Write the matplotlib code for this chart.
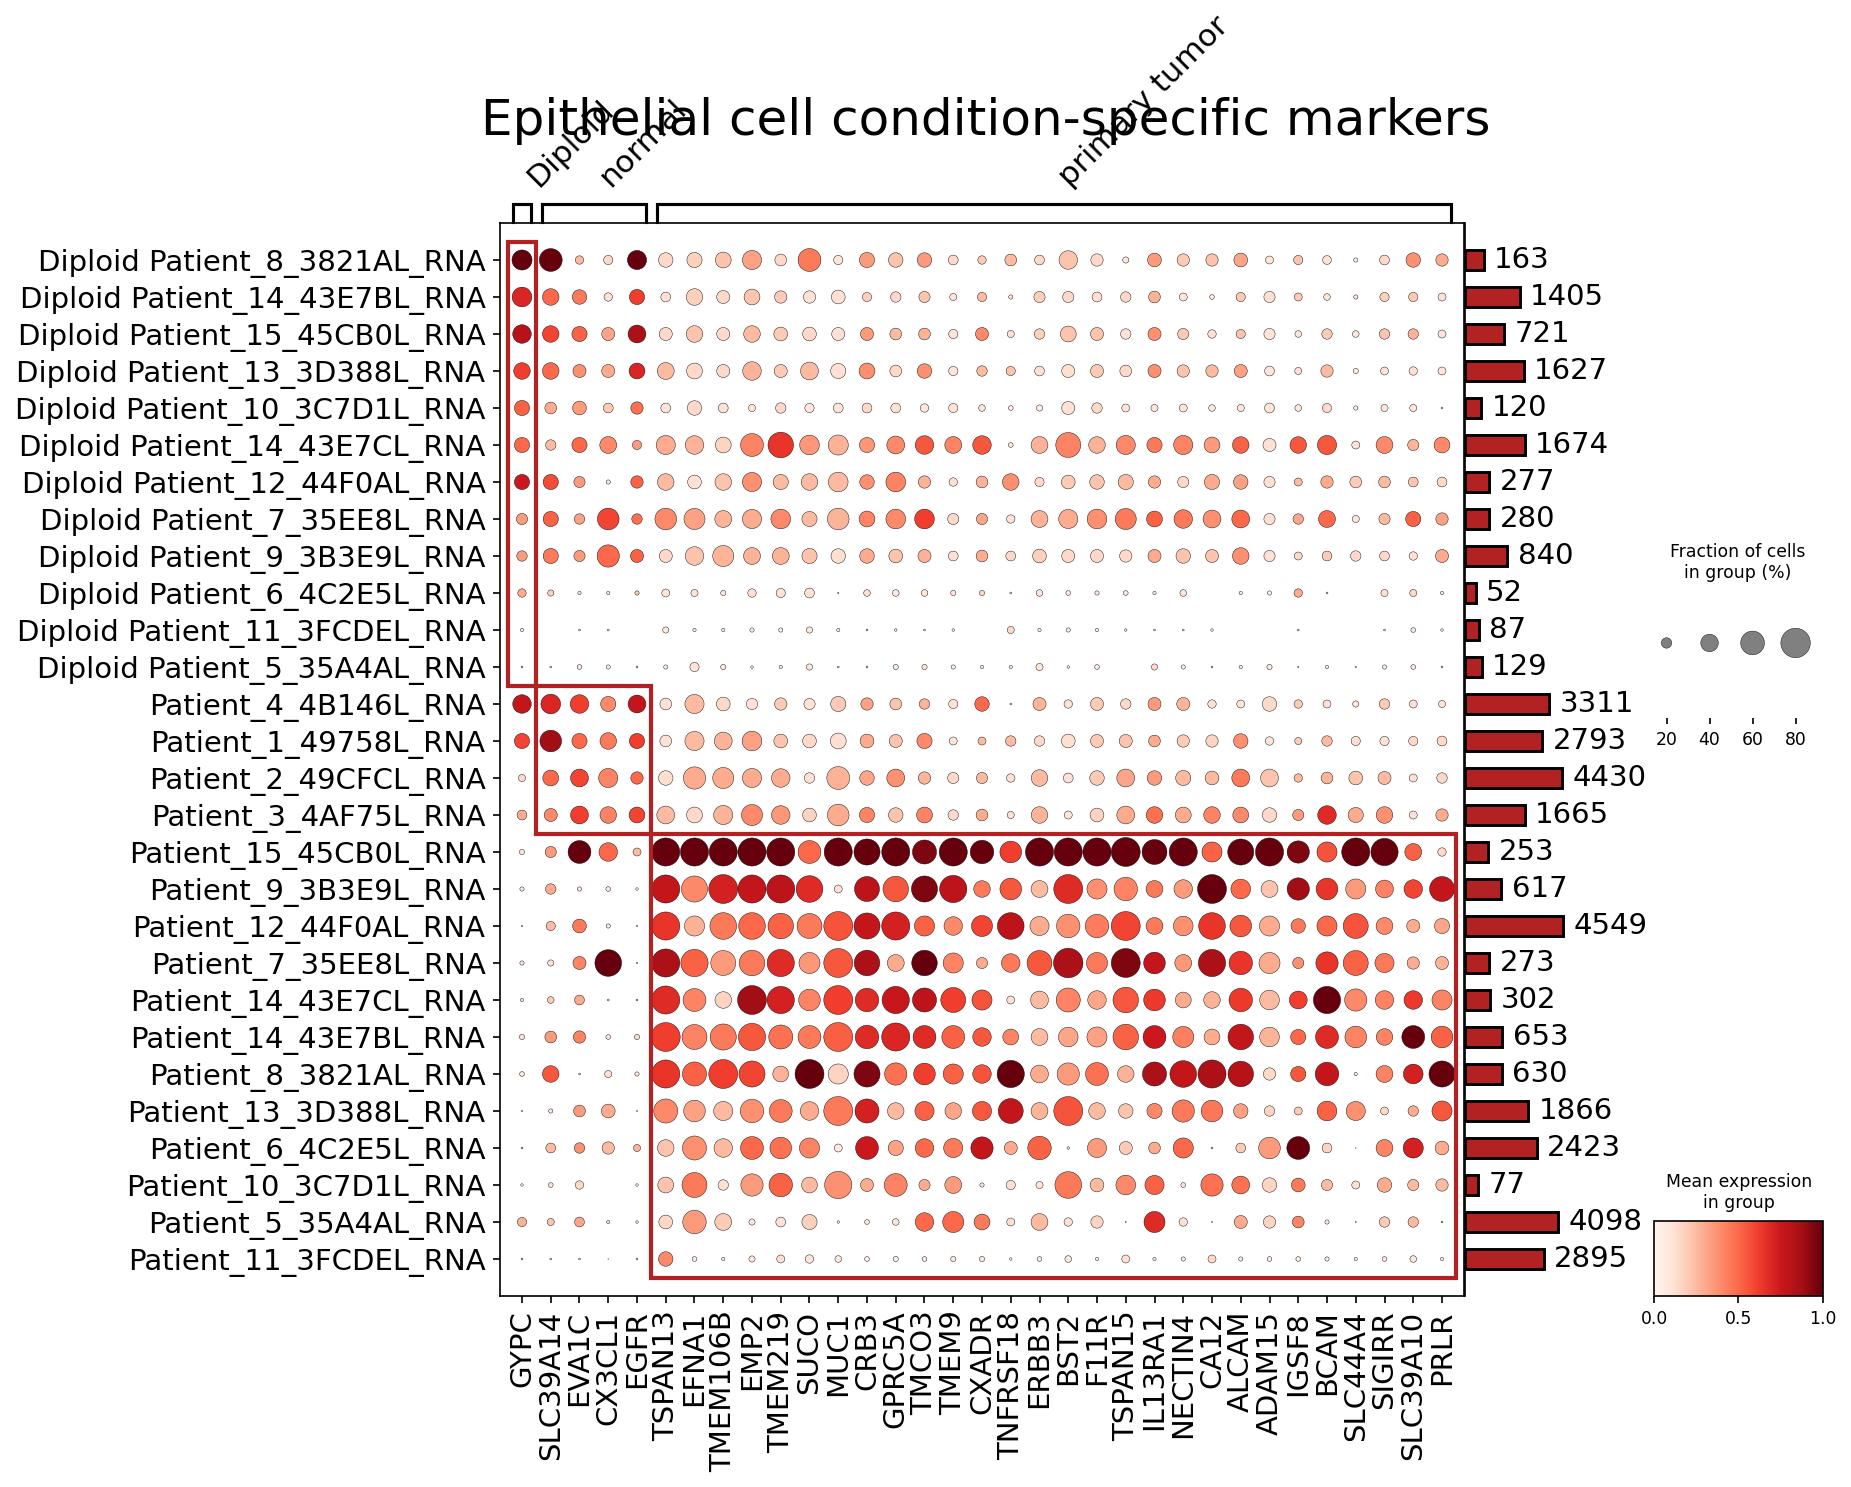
import numpy as np
import matplotlib
matplotlib.use("Agg")
import matplotlib.pyplot as plt
from matplotlib.patches import Rectangle
from matplotlib import colors as mcolors
from matplotlib.cm import ScalarMappable

# ---------------- data ----------------
title = "Epithelial cell condition-specific markers"

genes = ["GYPC", "SLC39A14", "EVA1C", "CX3CL1", "EGFR", "TSPAN13", "EFNA1", "TMEM106B",
         "EMP2", "TMEM219", "SUCO", "MUC1", "CRB3", "GPRC5A", "TMCO3", "TMEM9", "CXADR",
         "TNFRSF18", "ERBB3", "BST2", "F11R", "TSPAN15", "IL13RA1", "NECTIN4", "CA12",
         "ALCAM", "ADAM15", "IGSF8", "BCAM", "SLC44A4", "SIGIRR", "SLC39A10", "PRLR"]

row_labels = ["Diploid Patient_8_3821AL_RNA", "Diploid Patient_14_43E7BL_RNA",
              "Diploid Patient_15_45CB0L_RNA", "Diploid Patient_13_3D388L_RNA",
              "Diploid Patient_10_3C7D1L_RNA", "Diploid Patient_14_43E7CL_RNA",
              "Diploid Patient_12_44F0AL_RNA", "Diploid Patient_7_35EE8L_RNA",
              "Diploid Patient_9_3B3E9L_RNA", "Diploid Patient_6_4C2E5L_RNA",
              "Diploid Patient_11_3FCDEL_RNA", "Diploid Patient_5_35A4AL_RNA",
              "Patient_4_4B146L_RNA", "Patient_1_49758L_RNA", "Patient_2_49CFCL_RNA",
              "Patient_3_4AF75L_RNA", "Patient_15_45CB0L_RNA", "Patient_9_3B3E9L_RNA",
              "Patient_12_44F0AL_RNA", "Patient_7_35EE8L_RNA", "Patient_14_43E7CL_RNA",
              "Patient_14_43E7BL_RNA", "Patient_8_3821AL_RNA", "Patient_13_3D388L_RNA",
              "Patient_6_4C2E5L_RNA", "Patient_10_3C7D1L_RNA", "Patient_5_35A4AL_RNA",
              "Patient_11_3FCDEL_RNA"]

totals = [163, 1405, 721, 1627, 120, 1674, 277, 280, 840, 52, 87, 129, 3311, 2793, 4430,
          1665, 253, 617, 4549, 273, 302, 653, 630, 1866, 2423, 77, 4098, 2895]

# gene groups: (label, first gene index, last gene index)
gene_groups = [("Diploid", 0, 0), ("normal", 1, 4), ("primary tumor", 5, 32)]
# rows highlighted for each gene group: (first row, last row)
group_rows = [(0, 11), (12, 15), (16, 27)]

# fraction of cells expressing (%)
frac_pct = [
    [48,57,15,17,45,31,33,35,45,23.5,57,17,33,31,31,18.5,15,23.5,18.5,43,25,10,29,25,25,29,14,17,16,6,18.5,31,25],
    [46.6,37,31,15,33,18.5,37,27,35,25,25,29,17,20,22,12,17,6,22,22,18.5,20,23.5,14,7,17,22,14,11,6,17,17,14],
    [43,37,33,27,41,27,37,27,37,29,29,27,27,23.5,23.5,17,27,12,20,35,27,20,27,22,15,17,22,11,20,11,20,20,14],
    [37,37,27,27,35,38,35,27,43,27,41,33,35,23.5,31,17,20,17,18.5,27,27,23.5,27,25,25,27,18.5,12,25,8,14,15,14],
    [33,23.5,29,18.5,25,18.5,31,18.5,12,20,17,18.5,18.5,18.5,15,17,11,7,10,27,20,14,12,14,11,12,18.5,11,17,6,12,12,2],
    [33,20,33,38,17,45,43,35,57,66,46.6,48,33,41,43,38,43,7,38,64,37,45,33,45,35,37,27,37,45,14,38,22,35],
    [33,33,22,6,25,37,29,37,45,33,37,46.6,31,46.6,25,15,23.5,37,17,29,31,33,25,22,33,31,22,14,25,23.5,23.5,18.5,18.5],
    [22,33,20,53,20,53,51,38,45,46.6,33,53,35,46.6,46.6,22,22,15,38,45,46.6,51,35,43,41,41,22,20,38,12,22,33,25],
    [20,33,22,55,27,27,43,51,38,38,33,31,31,29,27,18.5,23.5,18.5,29,27,27,25,27,31,27,37,22,14,18.5,20,18.5,15,27],
    [15,10,4.3,4.3,6,14,12,8,15,17,18.5,1.3,11,11,11,8,8,2,11,7,6,7,4.3,11,0,4.3,6,15,2,0,12,12,4.3],
    [4.3,0,2,2,0,10,4.3,4.3,6,6,10,4.3,2,3,2,3,0,12,4.3,6,4.3,3,2,2,3,0,0,2,0,0,2,7,3],
    [2,2,7,6,2,6,17,8,3,4.3,10,2,2,8,8,6,4.3,4.3,12,3,7,0,10,6,2,4.3,8,1.3,4.3,1.3,6,7,2],
    [43,46.6,43,33,41,23.5,45,29,22,25,22,33,25,23.5,20,17,31,2,27,15,27,20,27,27,15,14,31,15,14,10,20,14,12],
    [33,53,33,37,33,23.5,45,41,46.6,29,29,35,29,27,33,14,14,20,20,29,27,27,23.5,25,25,31,15,12,20,17,17,17,18.5],
    [12,35,41,45,25,31,55,51,45,43,20,57,31,41,25,22,22,15,37,18.5,31,41,31,33,29,41,41,15,23.5,29,27,14,20],
    [18.5,27,41,37,35,41,35,45,51,43,29,53,33,31,35,20,23.5,12,37,14,29,41,37,35,37,35,31,22,43,33,37,14,25],
    [8,22,57,43,14,75,75,75,75,75,57,75,68,75,61,75,59,53,75,75,75,78,64,75,48,68,75,55,48,75,72,38,15],
    [6,20,6,7,3,75,68,78,75,75,70,14,64,66,68,72,37,53,38,78,48,59,38,43,78,46.6,38,55,53,48,41,43,64],
    [1.3,17,29,6,1.3,75,48,70,70,66,64,78,68,75,48,43,51,70,45,59,59,78,38,46.6,70,53,48,31,48,64,38,27,33],
    [6,10,27,70,1.3,75,72,64,66,72,51,78,66,38,66,48,22,43,64,80,51,78,53,38,72,59,51,22,55,64,45,25,27],
    [4.3,11,18.5,2,2,75,57,37,78,72,53,78,59,72,61,64,48,14,41,61,43,66,53,35,37,59,46.6,41,72,55,43,43,48],
    [8,23.5,25,7,8,78,64,68,72,61,57,78,59,75,57,57,43,35,38,46.6,48,66,57,51,35,66,46.6,33,57,53,37,57,53],
    [7,37,2,12,6,75,61,78,68,35,78,48,68,55,53,48,43,72,41,55,57,37,61,70,75,66,25,33,59,4.3,38,46.6,68],
    [1.3,6,23.5,29,1,61,53,45,59,57,43,78,61,37,45,37,45,64,38,78,37,31,33,55,53,31,20,14,46.6,45,14,20,48],
    [2,18.5,20,25,12,37,61,43,57,53,48,14,57,33,43,45,55,27,59,3,45,27,23.5,48,2,18.5,53,57,18.5,0.5,38,48,29],
    [3,7,15,0,3,35,64,20,55,59,35,72,27,57,22,38,6,17,12,70,29,46.6,45,7,55,41,31,29,22,14,31,22,25],
    [17,12,18.5,4.3,3,29,59,38,10,18.5,33,3,7,11,43,51,35,14,38,15,25,1,51,15,1,27,25,23.5,6,1,20,20,2],
    [2,2,2,0.5,2,31,7,4.3,10,14,15,11,7,8,7,8,8,3,7,11,4.3,14,4.3,6,14,6,7,7,6,4.3,7,11,4.3],
]

# mean expression in group (scaled 0-1)
mean_expr = [
    [1.0,1.0,0.25,0.15,1.0,0.15,0.18,0.22,0.33,0.15,0.45,0.1,0.35,0.22,0.35,0.15,0.2,0.25,0.15,0.22,0.15,0.1,0.35,0.2,0.22,0.32,0.1,0.22,0.12,0.05,0.15,0.38,0.3],
    [0.7,0.5,0.45,0.12,0.62,0.12,0.18,0.15,0.22,0.2,0.12,0.12,0.18,0.15,0.22,0.1,0.25,0.12,0.18,0.15,0.12,0.15,0.28,0.1,0.08,0.2,0.12,0.2,0.1,0.1,0.18,0.2,0.12],
    [0.82,0.6,0.52,0.32,0.85,0.15,0.22,0.15,0.25,0.2,0.15,0.12,0.35,0.25,0.28,0.1,0.4,0.12,0.18,0.22,0.22,0.12,0.38,0.2,0.12,0.22,0.1,0.1,0.2,0.08,0.22,0.28,0.1],
    [0.62,0.5,0.38,0.3,0.7,0.25,0.15,0.15,0.27,0.2,0.25,0.12,0.38,0.15,0.38,0.1,0.25,0.22,0.12,0.13,0.2,0.15,0.38,0.22,0.25,0.33,0.1,0.12,0.25,0.08,0.1,0.12,0.1],
    [0.52,0.3,0.35,0.2,0.48,0.1,0.15,0.12,0.1,0.15,0.08,0.1,0.15,0.12,0.1,0.1,0.1,0.05,0.05,0.12,0.15,0.1,0.1,0.1,0.08,0.1,0.1,0.08,0.15,0.05,0.08,0.1,0.05],
    [0.5,0.25,0.5,0.4,0.35,0.3,0.27,0.17,0.42,0.65,0.36,0.28,0.36,0.4,0.55,0.42,0.55,0.1,0.28,0.42,0.28,0.4,0.45,0.42,0.35,0.52,0.12,0.55,0.55,0.12,0.4,0.27,0.4],
    [0.75,0.58,0.35,0.1,0.52,0.25,0.12,0.22,0.38,0.25,0.25,0.25,0.38,0.42,0.28,0.12,0.28,0.38,0.15,0.2,0.22,0.25,0.3,0.15,0.3,0.33,0.12,0.25,0.3,0.2,0.25,0.22,0.15],
    [0.35,0.52,0.33,0.6,0.48,0.4,0.33,0.27,0.3,0.4,0.25,0.27,0.42,0.4,0.62,0.15,0.32,0.12,0.28,0.3,0.38,0.45,0.52,0.45,0.38,0.5,0.12,0.32,0.5,0.1,0.25,0.52,0.33],
    [0.35,0.45,0.35,0.5,0.52,0.15,0.22,0.27,0.28,0.28,0.22,0.13,0.3,0.22,0.28,0.12,0.3,0.15,0.18,0.15,0.15,0.15,0.3,0.22,0.22,0.38,0.12,0.15,0.2,0.15,0.15,0.12,0.3],
    [0.3,0.18,0.1,0.1,0.2,0.1,0.1,0.08,0.12,0.12,0.12,0.0,0.12,0.08,0.1,0.1,0.15,0.05,0.1,0.08,0.08,0.08,0.08,0.1,0.0,0.05,0.05,0.3,0.03,0.0,0.12,0.15,0.05],
    [0.05,0.0,0.02,0.02,0.0,0.08,0.05,0.05,0.05,0.05,0.08,0.05,0.03,0.05,0.03,0.03,0.0,0.15,0.05,0.06,0.05,0.05,0.03,0.03,0.05,0.0,0.0,0.03,0.0,0.0,0.03,0.08,0.05],
    [0.05,0.03,0.08,0.06,0.03,0.06,0.1,0.08,0.05,0.05,0.08,0.03,0.03,0.08,0.12,0.06,0.05,0.05,0.1,0.05,0.07,0.0,0.15,0.06,0.03,0.05,0.08,0.02,0.05,0.02,0.06,0.08,0.03],
    [0.78,0.7,0.62,0.4,0.78,0.12,0.25,0.15,0.12,0.2,0.12,0.2,0.33,0.22,0.28,0.12,0.5,0.1,0.27,0.12,0.2,0.15,0.35,0.27,0.12,0.1,0.15,0.2,0.12,0.1,0.2,0.12,0.1],
    [0.6,0.88,0.5,0.45,0.62,0.12,0.25,0.27,0.33,0.22,0.15,0.13,0.3,0.22,0.4,0.1,0.25,0.25,0.15,0.13,0.2,0.22,0.3,0.2,0.17,0.38,0.1,0.2,0.25,0.12,0.12,0.15,0.15],
    [0.15,0.5,0.6,0.42,0.5,0.13,0.3,0.3,0.3,0.3,0.12,0.28,0.32,0.38,0.27,0.15,0.25,0.12,0.25,0.12,0.2,0.32,0.35,0.25,0.25,0.45,0.22,0.25,0.27,0.22,0.25,0.12,0.15],
    [0.3,0.4,0.62,0.42,0.6,0.25,0.15,0.27,0.4,0.36,0.17,0.3,0.42,0.22,0.42,0.15,0.3,0.12,0.27,0.1,0.17,0.3,0.48,0.3,0.42,0.4,0.15,0.35,0.68,0.3,0.38,0.12,0.3],
    [0.1,0.35,1.0,0.5,0.25,1.0,1.0,1.0,1.0,1.0,0.5,1.0,1.0,1.0,0.95,1.0,1.0,0.62,1.0,1.0,1.0,1.0,1.0,1.0,0.52,1.0,1.0,0.95,0.56,1.0,1.0,0.52,0.15],
    [0.08,0.3,0.1,0.1,0.05,0.78,0.4,0.72,0.78,0.8,0.68,0.12,0.8,0.55,0.95,0.8,0.45,0.55,0.25,0.68,0.38,0.42,0.45,0.35,1.0,0.5,0.22,0.88,0.65,0.35,0.42,0.6,0.78],
    [0.05,0.25,0.45,0.08,0.05,0.65,0.28,0.45,0.5,0.52,0.45,0.56,0.78,0.72,0.52,0.4,0.6,0.8,0.3,0.38,0.44,0.6,0.45,0.38,0.65,0.55,0.3,0.45,0.5,0.56,0.4,0.3,0.32],
    [0.08,0.12,0.42,1.0,0.05,0.85,0.52,0.35,0.45,0.68,0.36,0.55,0.85,0.3,1.0,0.42,0.3,0.45,0.55,0.85,0.45,0.95,0.78,0.36,0.85,0.65,0.3,0.38,0.65,0.52,0.45,0.3,0.28],
    [0.1,0.2,0.3,0.05,0.05,0.68,0.42,0.17,0.88,0.72,0.42,0.62,0.68,0.76,0.8,0.62,0.56,0.12,0.25,0.42,0.32,0.55,0.63,0.3,0.28,0.63,0.25,0.62,1.0,0.4,0.42,0.63,0.42],
    [0.12,0.35,0.42,0.1,0.15,0.62,0.42,0.45,0.55,0.48,0.45,0.53,0.68,0.7,0.68,0.52,0.55,0.42,0.25,0.32,0.33,0.52,0.75,0.43,0.3,0.78,0.27,0.5,0.68,0.42,0.42,1.0,0.52],
    [0.1,0.55,0.05,0.12,0.1,0.65,0.52,0.62,0.6,0.28,1.0,0.17,0.95,0.48,0.62,0.52,0.56,1.0,0.3,0.35,0.48,0.28,0.85,0.78,0.85,0.82,0.15,0.55,0.78,0.05,0.42,0.72,1.0],
    [0.05,0.1,0.35,0.3,0.05,0.4,0.33,0.25,0.38,0.45,0.3,0.45,0.72,0.25,0.52,0.32,0.55,0.78,0.27,0.56,0.25,0.22,0.4,0.45,0.46,0.33,0.17,0.2,0.52,0.38,0.15,0.3,0.55],
    [0.05,0.25,0.38,0.25,0.28,0.22,0.38,0.25,0.5,0.48,0.42,0.08,0.75,0.33,0.5,0.45,0.78,0.3,0.52,0.1,0.35,0.2,0.3,0.5,0.05,0.2,0.35,1.0,0.17,0.05,0.42,0.72,0.3],
    [0.05,0.1,0.15,0.0,0.05,0.22,0.45,0.12,0.35,0.52,0.25,0.38,0.3,0.42,0.3,0.35,0.1,0.12,0.1,0.45,0.25,0.4,0.52,0.1,0.48,0.48,0.17,0.45,0.25,0.12,0.3,0.25,0.25],
    [0.28,0.22,0.32,0.1,0.05,0.15,0.35,0.2,0.1,0.12,0.18,0.05,0.08,0.1,0.5,0.5,0.45,0.13,0.25,0.12,0.17,0.05,0.68,0.12,0.05,0.3,0.17,0.42,0.08,0.05,0.2,0.25,0.05],
    [0.05,0.05,0.05,0.02,0.05,0.4,0.05,0.05,0.1,0.12,0.1,0.08,0.05,0.05,0.07,0.08,0.08,0.05,0.07,0.1,0.05,0.12,0.05,0.07,0.15,0.07,0.07,0.07,0.07,0.05,0.07,0.1,0.05],
]

size_legend_values = [20, 40, 60, 80]

# ---------------- figure ----------------
W, H, DPI = 1851, 1487, 150
fig = plt.figure(figsize=(W / DPI, H / DPI), dpi=DPI)


def px_axes(l, t, r, b):
    return fig.add_axes([l / W, 1 - b / H, (r - l) / W, (b - t) / H])


DOT_MAX = 0.8
LARGEST = 200.0


def dot_size(f):
    f = np.asarray(f, dtype=float)
    return (np.clip(f / DOT_MAX, 0, None) ** 1.5) * LARGEST


n_rows, n_cols = len(row_labels), len(genes)
frac = np.array(frac_pct, dtype=float) / 100.0
expr = np.array(mean_expr, dtype=float)
yy, xx = np.indices(frac.shape)
XPAD = 0.765
xlim = (-XPAD, n_cols - 1 + XPAD)

ax = px_axes(500, 223, 1464, 1296)
ax.scatter(xx.ravel(), yy.ravel(), s=dot_size(frac.ravel()), c=expr.ravel(),
           cmap="Reds", vmin=0, vmax=1, edgecolors="black", linewidths=0.2, zorder=2)
ax.set_xlim(*xlim)
ax.set_ylim(n_rows, -1)
ax.set_xticks(range(n_cols))
ax.set_xticklabels(genes, rotation=90, fontsize=14)
ax.set_yticks(range(n_rows))
ax.set_yticklabels(row_labels, fontsize=14)

for (lab, c0, c1), (r0, r1) in zip(gene_groups, group_rows):
    ax.add_patch(Rectangle((c0 - 0.5, r0 - 0.5), c1 - c0 + 1, r1 - r0 + 1, fill=False,
                           edgecolor="#b22222", linewidth=2.0, clip_on=False, zorder=3))

# gene group brackets
gax = px_axes(500, 192, 1464, 222)
gax.set_xlim(*xlim)
gax.set_ylim(0, 1)
gax.axis("off")
for lab, c0, c1 in gene_groups:
    left, right = c0 - 0.3, c1 + 0.3
    gax.plot([left, left, right, right], [0, 0.6, 0.6, 0], color="black", lw=1.5,
             clip_on=False, solid_joinstyle="miter")
    gax.text((left + right) / 2, 1.0, lab, ha="left", va="bottom", rotation=45, fontsize=15)

fig.text(986 / W, 1 - 135 / H, title, ha="center", va="baseline", fontsize=24)

# totals bar chart (square-root scaled axis)
bax = px_axes(1465, 223, 1665, 1296)
bax.barh(range(n_rows), totals, height=0.55, color="#b22222", edgecolor="black", linewidth=1.4)
bax.set_xscale("function", functions=(lambda v: np.sqrt(np.maximum(v, 0)), lambda v: np.square(v)))
bax.set_xlim(0, 18769)
bax.set_ylim(n_rows, -1)
for s in ["top", "right", "bottom"]:
    bax.spines[s].set_visible(False)
bax.set_xticks([])
bax.set_yticks([])
bax.minorticks_off()
for i, v in enumerate(totals):
    bax.annotate(str(v), xy=(v, i), xytext=(5, 0), textcoords="offset points",
                 ha="left", va="center", fontsize=14, annotation_clip=False)

# size legend
sax = px_axes(1645, 600, 1830, 718)
lx = np.arange(len(size_legend_values)) + 0.5
sax.scatter(lx, [0.636] * len(lx), s=dot_size(np.array(size_legend_values) / 100.0),
            color="gray", edgecolors="black", linewidths=0.2, zorder=3, clip_on=False)
sax.set_xlim(0, 4.3)
sax.set_ylim(0, 1)
sax.set_xticks(lx)
sax.set_xticklabels([str(v) for v in size_legend_values], fontsize=8.3)
sax.tick_params(axis="x", length=2.7)
sax.set_yticks([])
for s in sax.spines.values():
    s.set_visible(False)
fig.text(1738 / W, 1 - 562.5 / H, "Fraction of cells\nin group (%)", ha="center",
         va="center", fontsize=8.3)

# colorbar
cax = px_axes(1654, 1221, 1822.7, 1295.7)
sm = ScalarMappable(norm=mcolors.Normalize(0, 1), cmap="Reds")
cb = fig.colorbar(sm, cax=cax, orientation="horizontal")
cb.set_ticks([0, 0.5, 1.0])
cb.ax.tick_params(labelsize=8.3)
fig.text(1738.8 / W, 1 - 1192.5 / H, "Mean expression\nin group", ha="center",
         va="center", fontsize=8.3)

fig.savefig("out.png", dpi=DPI)
